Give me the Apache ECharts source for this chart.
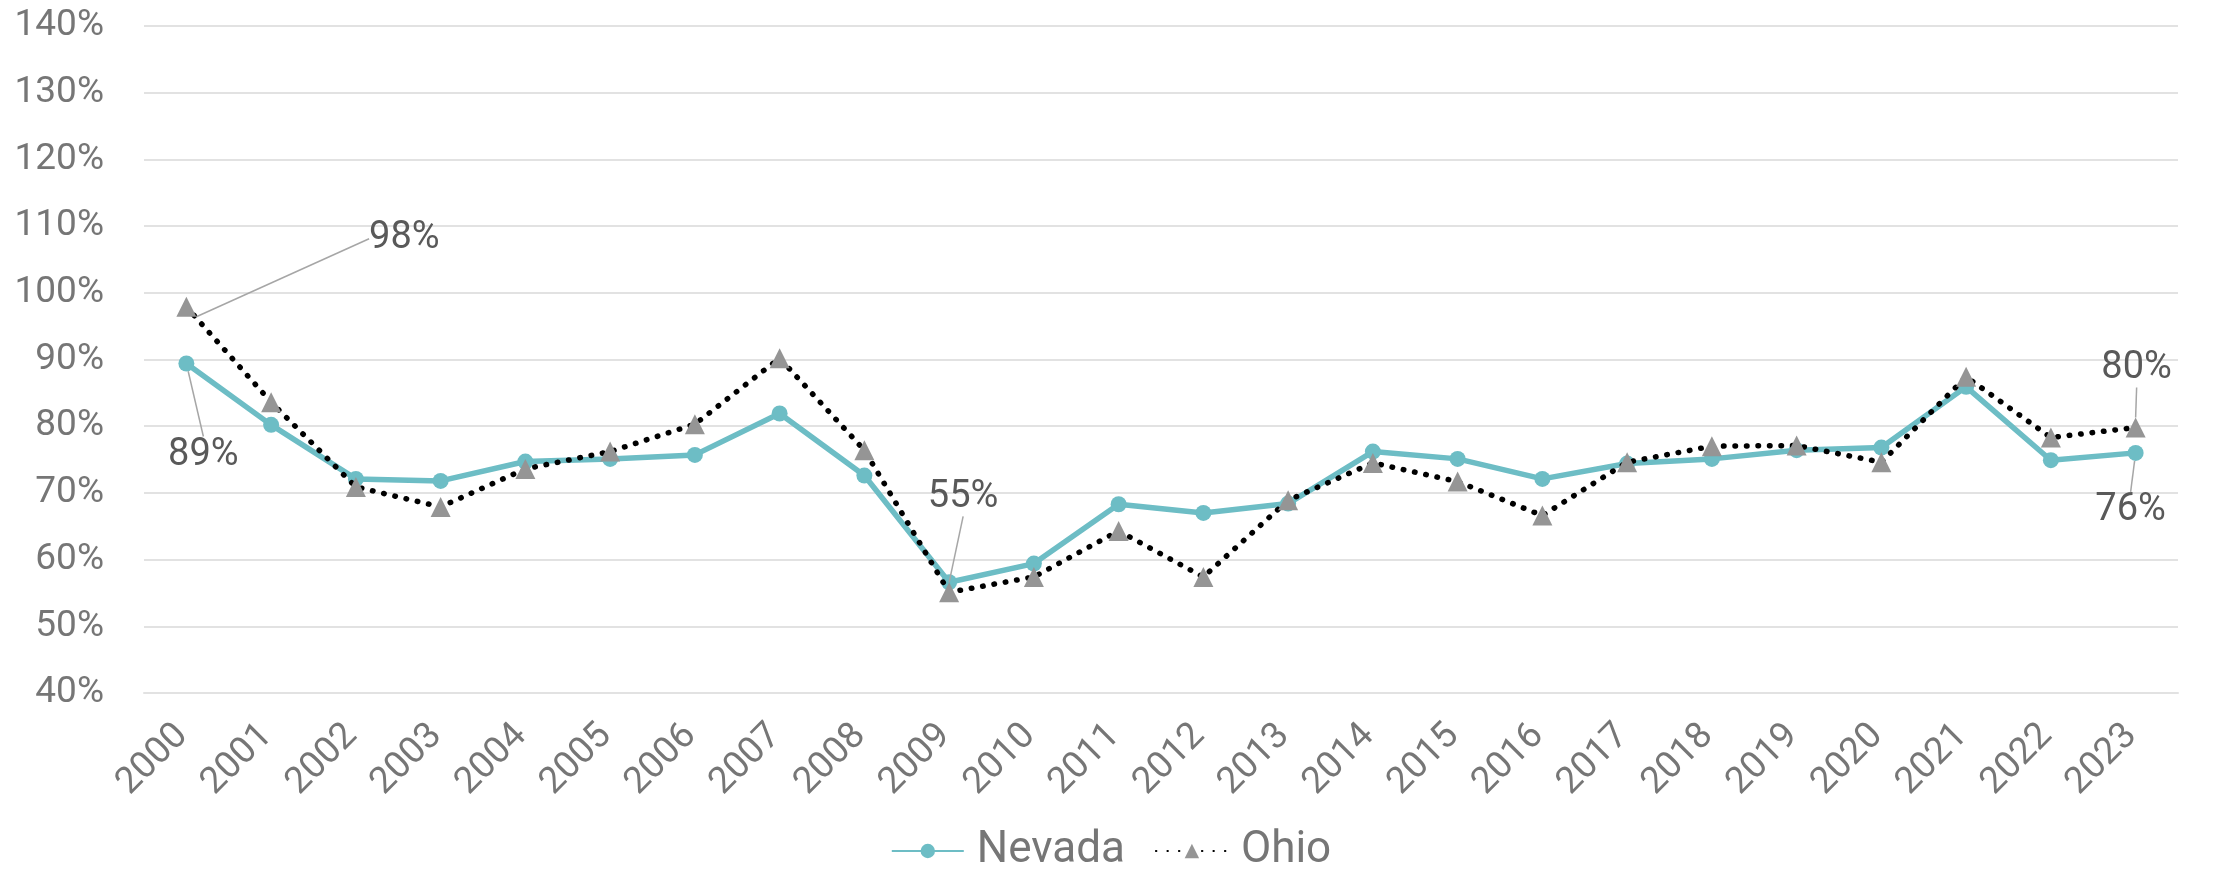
<!DOCTYPE html>
<html>
<head>
<meta charset="utf-8">
<script src="https://cdn.jsdelivr.net/npm/echarts@6/dist/echarts.min.js"></script>
<style>
  html, body { margin: 0; padding: 0; background: #fff; }
  #rate_chart { width: 2222px; height: 872px; }
</style>
</head>
<body>
<div id="rate_chart"></div>
<script>
// years on the x axis
const years = ['2000','2001','2002','2003','2004','2005','2006','2007','2008','2009','2010','2011',
  '2012','2013','2014','2015','2016','2017','2018','2019','2020','2021','2022','2023']
// values in percent
const nevada = [89.4, 80.2, 72.1, 71.8, 74.7, 75.1, 75.7, 81.9, 72.6, 56.6, 59.4, 68.3,
  67.0, 68.4, 76.2, 75.1, 72.1, 74.4, 75.1, 76.4, 76.8, 85.9, 74.9, 76.0]
const ohio = [97.9, 83.6, 70.9, 67.9, 73.6, 76.2, 80.3, 90.2, 76.4, 55.1, 57.4, 64.3,
  57.4, 68.9, 74.5, 71.7, 66.6, 74.6, 77.0, 77.1, 74.6, 87.4, 78.3, 79.8]
// which points carry a data label, and where it sits relative to the point
const nevadaLabels = { 0: [17, 92], 23: [-5, 58] }
const ohioLabels = { 0: [218, -68], 9: [14, -95], 23: [1, -59] }

const FONT = 'Roboto, "DejaVu Sans Condensed", sans-serif'
const TEXT_GREY = '#767676'

// turn value arrays into data items, showing a label only where the chart has one
const withLabels = (values, picks) => values.map((v, i) => {
  if (picks[i] === undefined) return v
  return { value: v, label: { show: true } }
})
const layoutFor = (picks) => (params) => {
  const p = picks[params.dataIndex]
  if (!p) return {}
  return { dx: p[0], dy: p[1] }
}

const labelStyle = {
  show: false,
  position: 'inside',
  formatter: (p) => Math.round(p.value) + '%',
  color: '#595959',
  fontSize: 38,
  fontFamily: FONT
}
const guideLine = {
  show: true,
  lineStyle: { color: '#a6a6a6', width: 1.5 }
}

const option = {
  animation: false,
  backgroundColor: '#ffffff',
  textStyle: { fontFamily: FONT },
  grid: {
    left: 144,
    right: 44,
    top: 26,
    bottom: 179,
    containLabel: false
  },
  legend: {
    top: 824,
    left: 'center',
    itemWidth: 72,
    itemHeight: 18,
    itemGap: 30,
    textStyle: { color: TEXT_GREY, fontSize: 44, fontFamily: FONT, padding: [0, 0, 0, 8] },
    data: ['Nevada', 'Ohio']
  },
  xAxis: {
    type: 'category',
    boundaryGap: true,
    data: years,
    axisLine: { show: true, lineStyle: { color: '#e2e2e2', width: 2 } },
    axisTick: { show: false },
    axisLabel: {
      interval: 0,
      rotate: 45,
      margin: 33,
      padding: [0, 6, 0, 0],
      color: TEXT_GREY,
      fontSize: 37,
      fontFamily: FONT
    }
  },
  yAxis: {
    type: 'value',
    min: 40,
    max: 140,
    interval: 10,
    axisLine: { show: false },
    axisTick: { show: false },
    axisLabel: {
      formatter: '{value}%',
      margin: 40,
      color: TEXT_GREY,
      fontSize: 37,
      fontFamily: FONT
    },
    splitLine: { lineStyle: { color: '#e2e2e2', width: 2 } }
  },
  series: [
    {
      name: 'Nevada',
      type: 'line',
      data: withLabels(nevada, nevadaLabels),
      symbol: 'circle',
      symbolSize: 16,
      itemStyle: { color: '#6dbdc5' },
      lineStyle: { color: '#6dbdc5', width: 5.5 },
      label: labelStyle,
      labelLine: guideLine,
      labelLayout: layoutFor(nevadaLabels),
      z: 2
    },
    {
      name: 'Ohio',
      type: 'line',
      data: withLabels(ohio, ohioLabels),
      symbol: 'triangle',
      symbolSize: 20,
      itemStyle: { color: '#959595' },
      lineStyle: { color: '#000000', width: 5.5, type: [0.5, 11], cap: 'round' },
      label: labelStyle,
      labelLine: guideLine,
      labelLayout: layoutFor(ohioLabels),
      z: 3
    }
  ]
}

const chart = echarts.init(document.getElementById('rate_chart'))
chart.setOption(option)
</script>
</body>
</html>
